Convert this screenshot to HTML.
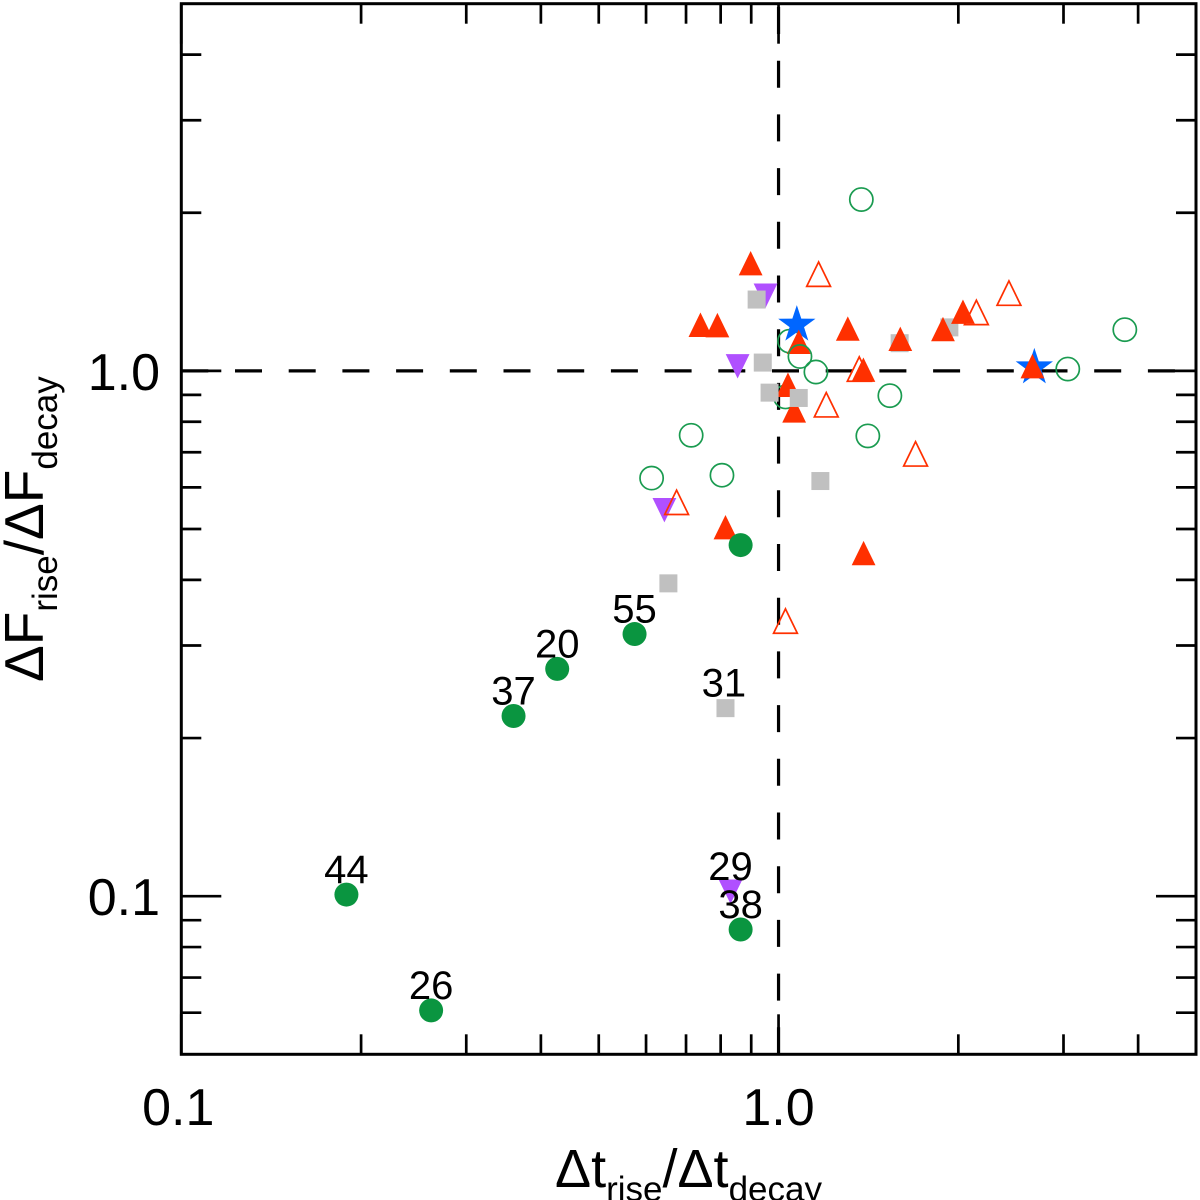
<!DOCTYPE html>
<html>
<head>
<meta charset="utf-8">
<title>Rise and decay ratio scatter chart</title>
<style>
html,body{margin:0;padding:0;background:#fff;overflow:hidden;}
svg{display:block;}
text{font-family:"Liberation Sans",sans-serif;fill:#000;}
</style>
</head>
<body>
<svg id="chart" xmlns="http://www.w3.org/2000/svg" width="1200" height="1200" viewBox="0 0 1200 1200">
  <rect x="0" y="0" width="1200" height="1200" fill="#fff"/>
  <g id="ref-lines"></g>
  <g id="ticks"></g>
  <rect x="181.3" y="3.7" width="1014.7" height="1050.6" fill="none" stroke="#000" stroke-width="3"/>
  <g id="marks"></g>
  <g id="point-labels"></g>
  <g id="tick-labels"></g>
  <text x="555" y="1187" font-size="54">Δt<tspan font-size="35" dy="14">rise</tspan><tspan dy="-14">/Δt</tspan><tspan font-size="35" dy="14">decay</tspan></text>
  <text transform="translate(43,682) rotate(-90)" x="0" y="0" font-size="55">ΔF<tspan font-size="35" dy="14">rise</tspan><tspan dy="-14">/ΔF</tspan><tspan font-size="35" dy="14">decay</tspan></text>
</svg>
<script>
// Axis domains and ticks
const xDomain = [0.1, 5];
const yDomain = [0.05, 5];
const xMajorTicks = [0.1, 1];
const xMajorLabels = ["0.1", "1.0"];
const yMajorTicks = [0.1, 1];
const yMajorLabels = ["0.1", "1.0"];
const xMinorTicks = [0.2, 0.3, 0.4, 0.5, 0.6, 0.7, 0.8, 0.9, 2, 3, 4];
const yMinorTicks = [0.06, 0.07, 0.08, 0.09, 0.2, 0.3, 0.4, 0.5, 0.6, 0.7, 0.8, 0.9, 2, 3, 4];

// Series values
const filledCircleX = [0.189, 0.262, 0.360, 0.426, 0.574, 0.864, 0.864];
const filledCircleY = [0.1007, 0.0606, 0.2203, 0.2708, 0.3155, 0.466, 0.0864];

const openCircleX = [1.376, 0.714, 0.613, 0.804, 1.155, 1.043, 1.027, 1.536, 1.411, 3.80, 3.05];
const openCircleY = [2.119, 0.754, 0.625, 0.633, 0.995, 1.139, 0.892, 0.897, 0.752, 1.198, 1.008];
const openCircleFrontX = [1.086];
const openCircleFrontY = [1.065];

const openTriangleX = [1.167, 1.202, 1.365, 2.144, 2.431, 1.696, 0.675, 1.027];
const openTriangleY = [1.528, 0.862, 1.008, 1.292, 1.406, 0.695, 0.562, 0.334];

const filledTriangleBackX = [1.081, 1.037, 1.062];
const filledTriangleBackY = [1.136, 0.941, 0.841];
const filledTriangleX = [0.898, 0.740, 0.790, 1.306, 1.387, 1.599, 1.885, 2.036, 2.661, 0.815, 1.388];
const filledTriangleY = [1.603, 1.224, 1.222, 1.204, 1.005, 1.151, 1.201, 1.296, 1.021, 0.504, 0.450];

const squareX = [0.919, 0.941, 0.966, 1.081, 1.175, 1.595, 1.932, 0.654, 0.815];
const squareY = [1.367, 1.037, 0.909, 0.888, 0.617, 1.129, 1.210, 0.394, 0.228];

const invTriangleX = [0.951, 0.854, 0.644, 0.831];
const invTriangleY = [1.390, 1.020, 0.543, 0.102];

const starX = [1.073, 2.681];
const starY = [1.224, 1.015];

// Point annotations
const pointLabels = ["44", "26", "37", "20", "55", "31", "29", "38"];
const pointLabelX = [0.189, 0.262, 0.360, 0.426, 0.574, 0.810, 0.831, 0.864];
const pointLabelY = [0.1007, 0.0606, 0.2203, 0.2708, 0.3155, 0.228, 0.102, 0.0864];

const SVGNS = "http://www.w3.org/2000/svg";
const PLOT = {left: 181.3, right: 1196, top: 3.7, bottom: 1054.3};

function xScale(v) {
  const a = Math.log10(xDomain[0]), b = Math.log10(xDomain[1]);
  return PLOT.left + (Math.log10(v) - a) / (b - a) * (PLOT.right - PLOT.left);
}
function yScale(v) {
  const a = Math.log10(yDomain[0]), b = Math.log10(yDomain[1]);
  return PLOT.bottom - (Math.log10(v) - a) / (b - a) * (PLOT.bottom - PLOT.top);
}
function make(tag, attrs, parent) {
  const el = document.createElementNS(SVGNS, tag);
  for (const k in attrs) el.setAttribute(k, attrs[k]);
  parent.appendChild(el);
  return el;
}

// Reference lines
const refGroup = document.getElementById("ref-lines");
const hRef = make("line", {x1: PLOT.left, x2: PLOT.right, y1: yScale(1), y2: yScale(1), stroke: "#000", "stroke-width": 3.2, "stroke-dasharray": "27 26.7"}, refGroup);


const vRef = make("line", {x1: xScale(1), x2: xScale(1), y1: PLOT.bottom, y2: PLOT.top, stroke: "#000", "stroke-width": 3.2, "stroke-dasharray": "27 26.7"}, refGroup);



// Ticks
const tickGroup = document.getElementById("ticks");
function xTick(v, len) {
  const px = xScale(v);
  const bottom = make("line", {x1: px, x2: px, y1: PLOT.bottom, y2: PLOT.bottom - len, stroke: "#000", "stroke-width": 2.7}, tickGroup);
  
  
  const top = make("line", {x1: px, x2: px, y1: PLOT.top, y2: PLOT.top + len, stroke: "#000", "stroke-width": 2.7}, tickGroup);
  
  
}
function yTick(v, len) {
  const py = yScale(v);
  const left = make("line", {x1: PLOT.left, x2: PLOT.left + len, y1: py, y2: py, stroke: "#000", "stroke-width": 2.7}, tickGroup);
  
  
  const right = make("line", {x1: PLOT.right, x2: PLOT.right - len, y1: py, y2: py, stroke: "#000", "stroke-width": 2.7}, tickGroup);
  
  
}
xMajorTicks.forEach(v => xTick(v, 40));
xMinorTicks.forEach(v => xTick(v, 20));
yMajorTicks.forEach(v => yTick(v, 40));
yMinorTicks.forEach(v => yTick(v, 20));

// Tick labels
const tickLabelGroup = document.getElementById("tick-labels");
xMajorTicks.forEach((v, i) => {
  const t = make("text", {x: xScale(v) - (i === 0 ? 3 : 0), y: 1125, "font-size": 52, "text-anchor": "middle"}, tickLabelGroup);
  
  
  t.textContent = xMajorLabels[i];
});
yMajorTicks.forEach((v, i) => {
  const t = make("text", {x: 160, y: yScale(v) + 19, "font-size": 52, "text-anchor": "end"}, tickLabelGroup);
  
  
  t.textContent = yMajorLabels[i];
});

// Marker shapes
const marks = document.getElementById("marks");
function triPoints(cx, cy, dir) {
  const hw = 11.9, hh = 12.2;
  return [[cx, cy - dir * hh], [cx - hw, cy + dir * hh], [cx + hw, cy + dir * hh]].map(p => p.join(",")).join(" ");
}
function starPoints(cx, cy) {
  const R = 19.6, r = 7.6, pts = [];
  for (let i = 0; i < 10; i++) {
    const rad = i % 2 ? r : R;
    const ang = -Math.PI / 2 + i * Math.PI / 5;
    pts.push((cx + rad * Math.cos(ang)) + "," + (cy + rad * Math.sin(ang)));
  }
  return pts.join(" ");
}
function drawOpenCircles(xs, ys) {
  xs.forEach((v, i) => {
    const m = make("circle", {cx: xScale(v), cy: yScale(ys[i]), r: 11.6, fill: "none", stroke: "#1a9b50", "stroke-width": 1.7}, marks);
    
    
  });
}
function drawFilledTriangles(xs, ys) {
  xs.forEach((v, i) => {
    const m = make("polygon", {points: triPoints(xScale(v), yScale(ys[i]), 1), fill: "#ff3000"}, marks);
    
    
  });
}

drawOpenCircles(openCircleX, openCircleY);

invTriangleX.forEach((v, i) => {
  const m = make("polygon", {points: triPoints(xScale(v), yScale(invTriangleY[i]), -1), fill: "#b050ff"}, marks);
  
  
});

openTriangleX.forEach((v, i) => {
  const m = make("polygon", {points: triPoints(xScale(v), yScale(openTriangleY[i]), 1), fill: "none", stroke: "#ff3000", "stroke-width": 1.7}, marks);
  
  
});

starX.forEach((v, i) => {
  const m = make("polygon", {points: starPoints(xScale(v), yScale(starY[i])), fill: "#0066ff"}, marks);
  
  
});

drawFilledTriangles(filledTriangleBackX, filledTriangleBackY);
drawOpenCircles(openCircleFrontX, openCircleFrontY);

squareX.forEach((v, i) => {
  const m = make("rect", {x: xScale(v) - 9, y: yScale(squareY[i]) - 9, width: 18, height: 18, fill: "#c0c0c0"}, marks);
  
  
});

drawFilledTriangles(filledTriangleX, filledTriangleY);

filledCircleX.forEach((v, i) => {
  const m = make("circle", {cx: xScale(v), cy: yScale(filledCircleY[i]), r: 12, fill: "#0a9540"}, marks);
  
  
});

// Point annotations
const pointLabelGroup = document.getElementById("point-labels");
pointLabels.forEach((s, i) => {
  const t = make("text", {x: xScale(pointLabelX[i]), y: yScale(pointLabelY[i]) - 11.5, "font-size": 40, "text-anchor": "middle"}, pointLabelGroup);
  
  
  t.textContent = s;
});
</script>
</body>
</html>
